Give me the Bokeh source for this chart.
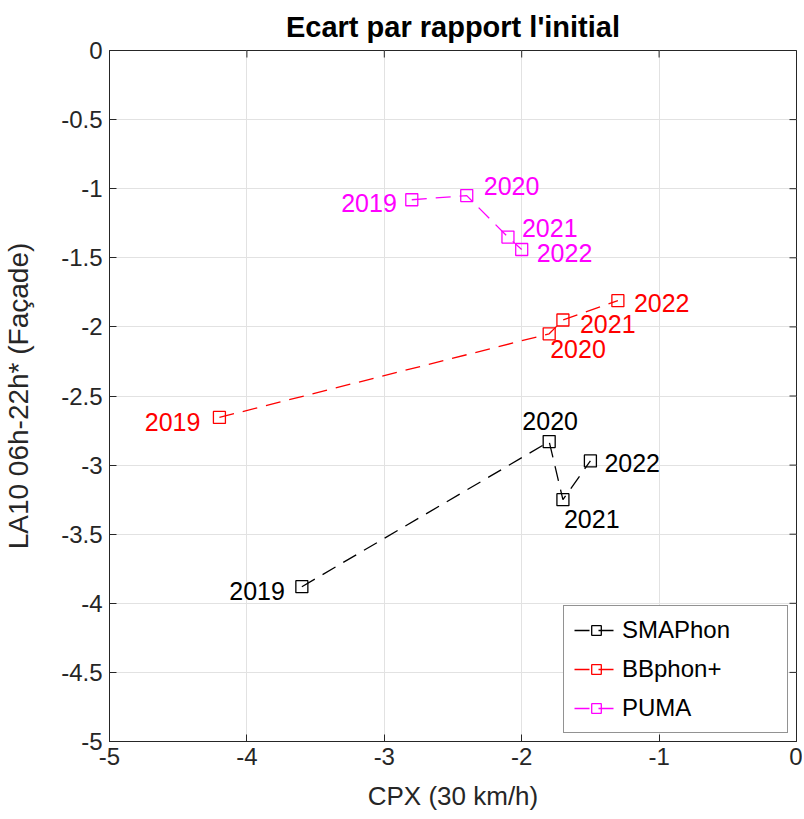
import math
from bokeh.plotting import figure
from bokeh.models import Range1d, FixedTicker, Legend, LegendItem
from bokeh.core.properties import value
from bokeh.embed import file_html
from bokeh.resources import INLINE

# ---- data ----
years = ["2019", "2020", "2021", "2022"]
series_names = ["SMAPhon", "BBphon+", "PUMA"]
smaphon_x = [-3.60, -1.80, -1.70, -1.50]
smaphon_y = [-3.88, -2.83, -3.25, -2.97]
bbphon_x = [-4.20, -1.80, -1.70, -1.30]
bbphon_y = [-2.655, -2.05, -1.95, -1.81]
puma_x = [-2.80, -2.40, -2.10, -2.00]
puma_y = [-1.08, -1.05, -1.35, -1.44]
x_ticks = [-5, -4, -3, -2, -1, 0]
x_tick_labels = ["-5", "-4", "-3", "-2", "-1", "0"]
y_ticks = [-5, -4.5, -4, -3.5, -3, -2.5, -2, -1.5, -1, -0.5, 0]
y_tick_labels = ["-5", "-4.5", "-4", "-3.5", "-3", "-2.5", "-2", "-1.5", "-1", "-0.5", "0"]
title_text = "Ecart par rapport l'initial"
x_label = "CPX (30 km/h)"
y_label = "LA10 06h-22h* (Façade)"

# ---- style ----
FONT = "Liberation Sans"
colors = ["#000000", "#FF0000", "#FF00FF"]
# label placement per point: (align, dx, dy) in screen pixels
label_place = [
    [("right", -17, 4), ("center", 1, -21), ("left", 1, 19), ("left", 14, 2)],
    [("right", -19, 5), ("left", 1, 15), ("left", 17, 4), ("left", 16, 2)],
    [("right", -15, 3), ("left", 17, -10), ("left", 14, -9), ("left", 15, 3)],
]
AX_COLOR = "#262626"

p = figure(frame_width=687, frame_height=691,
           x_range=Range1d(-5, 0), y_range=Range1d(-5, 0),
           output_backend="svg", toolbar_location=None,
           min_border_left=100, min_border_right=6, min_border_top=0, min_border_bottom=0)

p.background_fill_color = "white"
p.border_fill_color = "white"
p.outline_line_color = AX_COLOR
p.outline_line_width = 1

p.title.text = title_text
p.title.align = "center"
p.title.text_font = FONT
p.title.text_font_size = "29px"
p.title.text_font_style = "bold"
p.title.text_color = "#000000"
p.title.standoff = 16

for ax in (p.xaxis[0], p.yaxis[0]):
    ax.major_tick_in = 7
    ax.major_tick_out = 0
    ax.minor_tick_line_color = None
    ax.axis_line_color = AX_COLOR
    ax.major_tick_line_color = AX_COLOR
    ax.major_label_text_font = FONT
    ax.major_label_text_font_size = "24px"
    ax.major_label_text_color = AX_COLOR
    ax.axis_label_text_font = FONT
    ax.axis_label_text_font_style = "normal"
    ax.axis_label_text_color = AX_COLOR

p.xaxis[0].ticker = FixedTicker(ticks=x_ticks)
p.yaxis[0].ticker = FixedTicker(ticks=y_ticks)
p.xaxis[0].major_label_overrides = dict(zip(x_ticks, x_tick_labels))
p.yaxis[0].major_label_overrides = dict(zip(y_ticks, y_tick_labels))
p.xaxis[0].axis_label = x_label
p.yaxis[0].axis_label = y_label
p.xaxis[0].axis_label_text_font_size = "26px"
p.yaxis[0].axis_label_text_font_size = "28px"
p.xaxis[0].major_label_standoff = 6
p.xaxis[0].axis_label_standoff = 13
p.yaxis[0].major_label_standoff = 7
p.yaxis[0].axis_label_standoff = 24

p.xgrid.ticker = FixedTicker(ticks=x_ticks)
p.ygrid.ticker = FixedTicker(ticks=y_ticks)
p.grid.grid_line_color = "#e2e2e2"
p.grid.grid_line_width = 1

# inward ticks on the top and right edges of the box
p.scatter(x=x_ticks, y=[max(y_ticks)] * len(x_ticks), marker="dash", angle=math.pi / 2,
          size=14, line_color=AX_COLOR, line_width=1)
p.scatter(x=[max(x_ticks)] * len(y_ticks), y=y_ticks, marker="dash", angle=0,
          size=14, line_color=AX_COLOR, line_width=1)

all_x = [smaphon_x, bbphon_x, puma_x]
all_y = [smaphon_y, bbphon_y, puma_y]
items = []
for xs, ys, name, col, places in zip(all_x, all_y, series_names, colors, label_place):
    lr = p.line(xs, ys, line_color=col, line_width=1.3, line_dash="15 9")
    sr = p.scatter(xs, ys, marker="square", size=12, line_color=col, line_width=1.3,
                   fill_color="white", fill_alpha=0)
    items.append(LegendItem(label=name, renderers=[lr, sr]))
    for i, yr in enumerate(years):
        align, dx, dy = places[i]
        p.text(x=[xs[i]], y=[ys[i]], text=[yr], text_font=value(FONT),
               text_font_size="25px", text_color=col, text_align=align,
               text_baseline="middle", x_offset=dx, y_offset=dy)

legend = Legend(items=items, location="bottom_right")
legend.label_text_font = FONT
legend.label_text_font_size = "24px"
legend.label_text_color = "#000000"
legend.border_line_color = AX_COLOR
legend.border_line_width = 1
legend.background_fill_color = "white"
legend.background_fill_alpha = 1
legend.glyph_width = 44
legend.glyph_height = 24
legend.label_height = 26
legend.label_width = 155
legend.label_standoff = 4
legend.spacing = 11
legend.padding = 10
legend.margin = 8
p.add_layout(legend)

open("out.html", "w").write(file_html(p, INLINE))
